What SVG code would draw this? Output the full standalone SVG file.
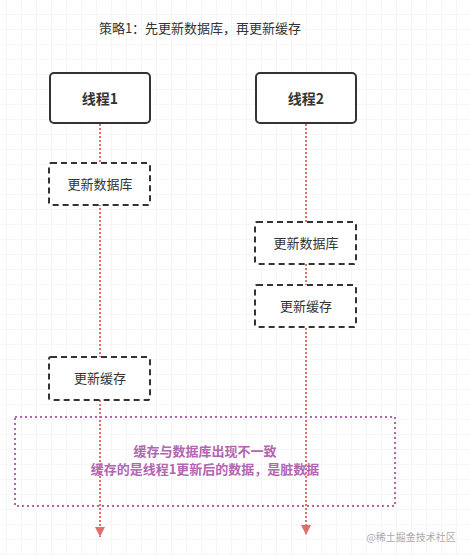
<svg xmlns="http://www.w3.org/2000/svg" width="470" height="555" viewBox="0 0 470 555">
<defs>
<pattern id="grid" x="7" y="0" width="15" height="15" patternUnits="userSpaceOnUse">
<path d="M15 0 V15 M0 15 H15" fill="none" stroke="#ececec" stroke-width="1"/>
</pattern>
<marker id="arr" viewBox="0 0 10 10" refX="10" refY="5" markerWidth="10" markerHeight="10" markerUnits="userSpaceOnUse" orient="auto">
<path d="M0 0 L10 5 L0 10 Z" fill="#e07070"/>
</marker>
<style>
.t{font-family:"Noto Sans CJK SC","Liberation Sans",sans-serif;fill:#333;text-anchor:middle}
.head{fill:#fff;stroke:#333;stroke-width:2}
.step{fill:#fff;stroke:#333;stroke-width:2;stroke-dasharray:6,4}
.life{stroke:#e07070;stroke-width:2;stroke-dasharray:2,2;fill:none}
.note{fill:none;stroke:#b266b2;stroke-width:2;stroke-dasharray:2,3}
.nt{font-family:"Noto Sans CJK SC","Liberation Sans",sans-serif;fill:#b266b2;font-weight:bold;font-size:13px;text-anchor:middle}
</style>
</defs>
<rect width="470" height="555" fill="#fff"/>
<rect width="470" height="555" fill="url(#grid)"/>
<text class="t" x="200" y="33" font-size="13">策略1：先更新数据库，再更新缓存</text>
<g id="connectors">
<path class="life" d="M100 124 V537" marker-end="url(#arr)"/>
<path class="life" d="M306 124 V535" marker-end="url(#arr)"/>
</g>
<g id="thread1">
<rect class="head" x="50" y="73" width="100" height="50" rx="4"/>
<text class="t" x="100" y="104" font-size="14" font-weight="bold">线程1</text>
</g>
<g id="thread2">
<rect class="head" x="256" y="73" width="100" height="50" rx="4"/>
<text class="t" x="306" y="104" font-size="14" font-weight="bold">线程2</text>
</g>
<g id="t1-db">
<rect class="step" x="49" y="163" width="101" height="42" rx="2"/>
<text class="t" x="100" y="189" font-size="13">更新数据库</text>
</g>
<g id="t2-db">
<rect class="step" x="255" y="222" width="101" height="42" rx="2"/>
<text class="t" x="306" y="248" font-size="13">更新数据库</text>
</g>
<g id="t2-cache">
<rect class="step" x="255" y="285" width="101" height="42" rx="2"/>
<text class="t" x="306" y="311" font-size="13">更新缓存</text>
</g>
<g id="t1-cache">
<rect class="step" x="49" y="357" width="101" height="43" rx="2"/>
<text class="t" x="100" y="383" font-size="13">更新缓存</text>
</g>
<g id="note">
<rect class="note" x="15" y="417" width="380" height="89"/>
<text class="nt" x="205" y="456">缓存与数据库出现不一致</text>
<text class="nt" x="205" y="474">缓存的是线程1更新后的数据，是脏数据</text>
</g>
<text x="411" y="541" font-family="Noto Sans CJK SC,Liberation Sans,sans-serif" font-size="10" fill="#aaa" text-anchor="middle">@稀土掘金技术社区</text>
</svg>
